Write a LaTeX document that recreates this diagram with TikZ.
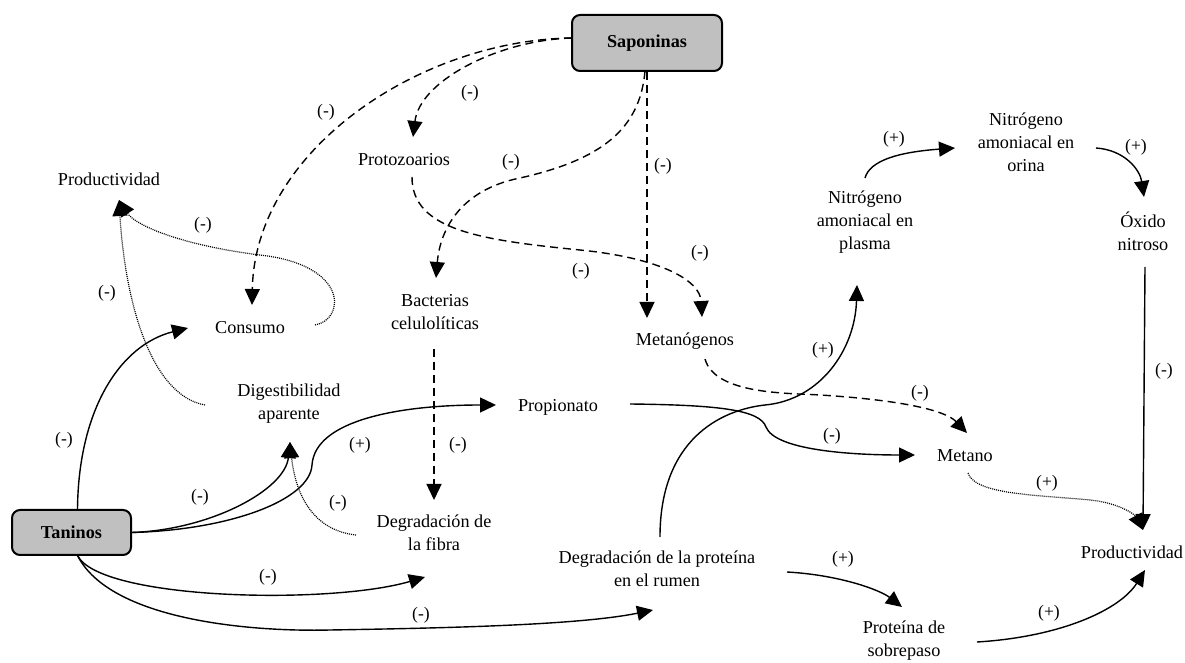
\documentclass[tikz,border=0pt]{standalone}
\usepackage{fontspec}
\setmainfont{Liberation Serif}
\usetikzlibrary{arrows.meta,calc}
\definecolor{boxgray}{RGB}{192,192,192}
\tikzset{
  txt/.style={inner sep=0pt, align=center, font=\fontsize{9.1}{11.5}\selectfont},
  lbl/.style={inner sep=0pt, font=\fontsize{8.8}{10}\selectfont},
  srcbox/.style={draw, line width=1pt, rounded corners=4pt, fill=boxgray, align=center,
     font=\fontsize{9.1}{11.5}\selectfont\bfseries},
  tip/.style={-{Triangle[length=8pt,width=7.5pt]}},
  sol/.style={tip, line width=0.7pt},
  dsh/.style={tip, line width=0.7pt, dash pattern=on 4pt off 2.5pt},
  dot/.style={tip, line width=0.6pt, dash pattern=on 0.5pt off 0.5pt}
}
\begin{document}
\begin{tikzpicture}[x=0.5pt,y=-0.5pt]
\useasboundingbox (0,0) rectangle (1185,663);
% source boxes
\node[srcbox, minimum width=75pt, minimum height=28pt] (sap) at (647,43) {Saponinas};
\node[srcbox, minimum width=59.5pt, minimum height=22.5pt] (tan) at (71.5,532.5) {Taninos};
% text nodes
\node[txt] (prodL) at (109,179) {Productividad};
\node[txt] (proto) at (404,160) {Protozoarios};
\node[txt] (cons) at (250,328) {Consumo};
\node[txt] (bact) at (435,312) {Bacterias\\celulolíticas};
\node[txt] (dig) at (289,404) {Digestibilidad\\aparente};
\node[txt] (prop) at (558,407) {Propionato};
\node[txt] (fib) at (434,533) {Degradación de\\la fibra};
\node[txt] (metg) at (685,341) {Metanógenos};
\node[txt] (metano) at (965,456) {Metano};
\node[txt] (degp) at (657,569) {Degradación de la proteína\\en el rumen};
\node[txt] (sobre) at (904,641) {Proteína de\\sobrepaso};
\node[txt] (prodR) at (1132,552) {Productividad};
\node[txt] (nplas) at (865,222) {Nitrógeno\\amoniacal en\\plasma};
\node[txt] (norin) at (1026,142) {Nitrógeno\\amoniacal en\\orina};
\node[txt] (oxido) at (1143,231) {Óxido\\nitroso};
% connectors from Saponinas
\draw[dsh] ($(sap)+(-75,-5)$) .. controls (420,40) and (255,150) .. ($(cons)+(2,-23)$);
\draw[dsh] ($(sap)+(-75,-5)$) .. controls (500,40) and (420,80) .. ($(proto)+(9,-23)$);
\draw[dsh] ($(sap)+(-2,28)$) .. controls (640,130) and (600,160) .. (520,178) .. controls (460,190) and (440,230) .. ($(bact)+(1,-34)$);
\draw[dsh] (sap.south) -- ($(metg)+(-38,-23)$);
\draw[dsh] ($(proto)+(8,17)$) .. controls (412,230) and (480,240) .. (580,250) .. controls (660,258) and (700,280) .. ($(metg)+(17,-24)$);
% loops to left Productividad
\draw[dot] ($(cons)+(65,-3)$) .. controls (345,320) and (350,265) .. (260,255) .. controls (180,245) and (135,225) .. ($(prodL)+(10,21)$);
\draw[dot] ($(dig)+(-84,1)$) .. controls (150,395) and (125,300) .. ($(prodL)+(10,21)$);
% from Taninos
\draw[sol] ($(tan)+(6,-22)$) .. controls (78,410) and (120,345) .. ($(cons)+(-62,0)$);
\draw[sol] ($(tan)+(60,0)$) .. controls (210,530) and (285,490) .. ($(dig)+(1,38)$);
\draw[sol] ($(tan)+(60,0)$) .. controls (230,530) and (310,500) .. (312,465) .. controls (315,420) and (400,405) .. ($(prop)+(-62,-2)$);
\draw[sol] ($(tan)+(6,23)$) .. controls (100,600) and (330,605) .. ($(fib)+(-9,44)$);
\draw[sol] ($(tan)+(6,23)$) .. controls (110,620) and (250,632) .. (330,630) .. controls (450,628) and (580,625) .. ($(degp)+(-4,41)$);
% fibre
\draw[dot] ($(fib)+(-78,2)$) .. controls (310,530) and (295,490) .. ($(dig)+(1,38)$);
\draw[dsh] ($(bact)+(-1,37)$) -- ($(fib)+(0,-33)$);
% methane
\draw[sol] ($(prop)+(72,-3)$) .. controls (720,405) and (760,410) .. (766,427) .. controls (775,450) and (850,455) .. ($(metano)+(-50,-1)$);
\draw[dsh] ($(metg)+(20,18)$) .. controls (715,395) and (790,393) .. (820,395) .. controls (900,400) and (945,410) .. ($(metano)+(2,-23)$);
\draw[dot] ($(metano)+(3,17)$) .. controls (975,495) and (1040,495) .. (1090,500) .. controls (1120,503) and (1135,515) .. ($(prodR)+(11,-22)$);
% nitrogen
\draw[sol] ($(degp)+(3,-32)$) .. controls (660,440) and (720,410) .. (765,405) .. controls (820,400) and (855,350) .. ($(nplas)+(-8,63)$);
\draw[sol] ($(nplas)+(0,-44)$) .. controls (870,160) and (900,152) .. ($(norin)+(-71,6)$);
\draw[sol] ($(norin)+(70,6)$) .. controls (1125,150) and (1140,170) .. ($(oxido)+(1,-34)$);
\draw[sol] ($(oxido)+(2,36)$) -- ($(prodR)+(11,-22)$);
% bypass protein
\draw[sol] ($(degp)+(130,3)$) .. controls (840,575) and (880,590) .. ($(sobre)+(-2,-34)$);
\draw[sol] ($(sobre)+(73,1)$) .. controls (1060,637) and (1120,610) .. ($(prodR)+(13,18)$);
% labels
\node[lbl] (l1) at (326,112) {(-)};
\node[lbl] (l2) at (470,93) {(-)};
\node[lbl] (l3) at (511,162) {(-)};
\node[lbl] (l4) at (663,166) {(-)};
\node[lbl] (l5) at (581,271) {(-)};
\node[lbl] (l6) at (700,253) {(-)};
\node[lbl] (l7) at (203,225) {(-)};
\node[lbl] (l8) at (107,293) {(-)};
\node[lbl] (l9) at (64,440) {(-)};
\node[lbl] (l10) at (200,497) {(-)};
\node[lbl] (l11) at (360,445) {(+)};
\node[lbl] (l12) at (338,503) {(-)};
\node[lbl] (l13) at (458,445) {(-)};
\node[lbl] (l14) at (268,577) {(-)};
\node[lbl] (l15) at (421,615) {(-)};
\node[lbl] (l16) at (832,436) {(-)};
\node[lbl] (l17) at (920,393) {(-)};
\node[lbl] (l18) at (823,350) {(+)};
\node[lbl] (l19) at (894,139) {(+)};
\node[lbl] (l20) at (1136,147) {(+)};
\node[lbl] (l21) at (1164,371) {(-)};
\node[lbl] (l22) at (1047,483) {(+)};
\node[lbl] (l23) at (843,559) {(+)};
\node[lbl] (l24) at (1049,613) {(+)};
\end{tikzpicture}
\end{document}
